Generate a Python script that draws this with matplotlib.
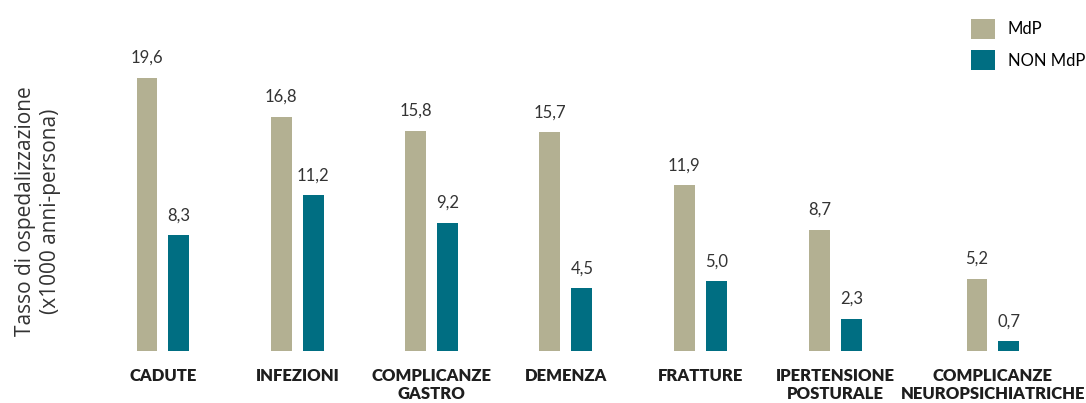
import matplotlib.pyplot as plt
import numpy as np
from matplotlib.patches import Patch

categories = [
    "CADUTE",
    "INFEZIONI",
    "COMPLICANZE\nGASTRO",
    "DEMENZA",
    "FRATTURE",
    "IPERTENSIONE\nPOSTURALE",
    "COMPLICANZE\nNEUROPSICHIATRICHE",
]
mdp = [19.6, 16.8, 15.8, 15.7, 11.9, 8.7, 5.2]
non_mdp = [8.3, 11.2, 9.2, 4.5, 5.0, 2.3, 0.7]

# =====================
# LAYOUT
# =====================

col_mdp = "#b3b092"
col_non = "#006e82"
txt = "#1e1e1e"

x = np.array([0, 1, 2, 3, 4, 5.01, 6.18])
w = 0.156
off = 0.119

fig = plt.figure(
    figsize=(10.86, 4.03),
    dpi=100
)

ax = fig.add_axes([100 / 1086, 52 / 403, 960 / 1086, 331 / 403])

b1 = ax.bar(x - off, mdp, w, color=col_mdp)
b2 = ax.bar(x + off, non_mdp, w, color=col_non)

for bars, vals in [(b1, mdp), (b2, non_mdp)]:
    for r, v in zip(bars, vals):
        ax.text(
            r.get_x() + r.get_width() / 2,
            v + 0.85,
            f"{v:.1f}".replace(".", ","),
            ha="center",
            va="bottom",
            fontsize=12,
            family="Lato",
            color="#333333"
        )

ax.set_xlim(-0.469, 6.679)
ax.set_ylim(0, 23.76)

ax.set_xticks(x)
ax.set_xticklabels(
    categories,
    fontsize=12,
    family="Lato",
    fontweight="heavy",
    color=txt,
    linespacing=1.15
)
ax.tick_params(axis="x", length=0, pad=12)
ax.set_yticks([])

for s in ax.spines.values():
    s.set_visible(False)

fig.text(
    38 / 1086,
    1 - 211 / 403,
    "Tasso di ospedalizzazione\n(x1000 anni-persona)",
    rotation=90,
    ha="center",
    va="center",
    fontsize=15,
    family="Open Sans",
    color="#333333",
    linespacing=1.3
)

handles = [
    Patch(facecolor=col_mdp, label="MdP"),
    Patch(facecolor=col_non, label="NON MdP"),
]
fig.legend(
    handles=handles,
    loc="upper left",
    bbox_to_anchor=(956 / 1086, 1 - 4 / 403),
    frameon=False,
    prop={"family": "Lato", "size": 12},
    handlelength=1.45,
    handleheight=1.45,
    labelspacing=0.68,
    handletextpad=0.75
)

fig.savefig("out.png", dpi=100)
